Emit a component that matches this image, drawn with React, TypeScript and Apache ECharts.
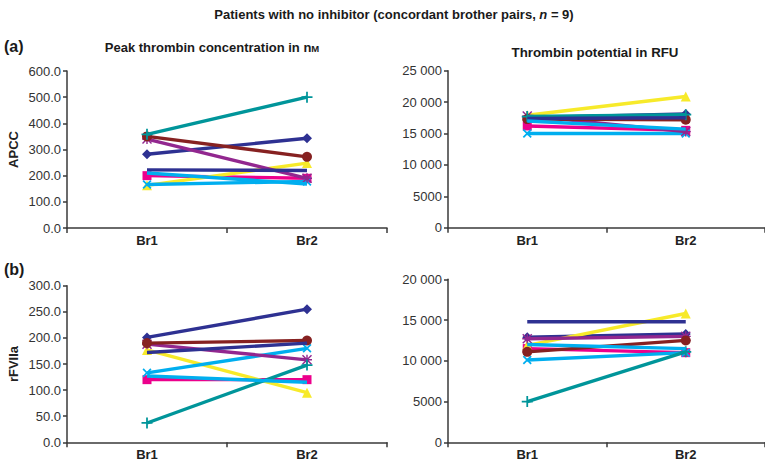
import React, { useEffect, useRef } from "react";
import * as echarts from "echarts";

const categories = ["Br1", "Br2"];

const seriesNames = ["P1", "P2", "P3", "P4", "P5", "P6", "P7", "P8", "P9"];
const seriesColors = ["#2E3192", "#EC008C", "#F7EA2A", "#00AEEF", "#92278F", "#862121", "#00959A", "#2E3192", "#00AEEF"];

// Panel (a) left: peak thrombin, APCC (nM)
const peakAPCC = [
  [282, 343],
  [200, 190],
  [163, 248],
  [166, 178],
  [340, 190],
  [350, 272],
  [358, 500],
  [222, 220],
  [210, 168],
];
// Panel (a) right: thrombin potential, APCC (RFU)
const potAPCC = [
  [17500, 18100],
  [16200, 15500],
  [17900, 20900],
  [15000, 15000],
  [17800, 15300],
  [17300, 17200],
  [17700, 18000],
  [17400, 17500],
  [17000, 15700],
];
// Panel (b) left: peak thrombin, rFVIIa (nM)
const peakRF = [
  [201, 255],
  [120, 120],
  [177, 95],
  [133, 180],
  [188, 158],
  [190, 195],
  [37, 148],
  [172, 190],
  [127, 115],
];
// Panel (b) right: thrombin potential, rFVIIa (RFU)
const potRF = [
  [12900, 13300],
  [11500, 11000],
  [11900, 15800],
  [10100, 11000],
  [12700, 13000],
  [11100, 12500],
  [5000, 11100],
  [14800, 14800],
  [12000, 11500],
];

const PLUS = "path://M4.2,0 L5.8,0 L5.8,4.2 L10,4.2 L10,5.8 L5.8,5.8 L5.8,10 L4.2,10 L4.2,5.8 L0,5.8 L0,4.2 L4.2,4.2 Z";
const STAR =
  "path://M4.3,0 L5.7,0 L5.7,4.3 L10,4.3 L10,5.7 L5.7,5.7 L5.7,10 L4.3,10 L4.3,5.7 L0,5.7 L0,4.3 L4.3,4.3 Z M1,0 L5,4 L9,0 L10,1 L6,5 L10,9 L9,10 L5,6 L1,10 L0,9 L4,5 L0,1 Z";
const markerSymbols = ["diamond", "rect", "triangle", PLUS, STAR, "circle", PLUS, "none", "none"];
const markerSizes = [10, 9, 10, 11, 10, 10, 11, 0, 0];
const markerRotate = [0, 0, 0, 45, 0, 0, 0, 0, 0];

const FONT = "'Liberation Sans', Arial, Helvetica, sans-serif";

function fmtThousands(v: number) {
  if (v >= 10000) return `${Math.floor(v / 1000)} 000`;
  return String(v);
}

export default function App() {
  const ref = useRef<HTMLDivElement>(null);
  useEffect(() => {
    if (!ref.current) return;
    const chart = echarts.init(ref.current, undefined, { renderer: "svg" });

    const grids = [
      { left: 67, top: 71, width: 320, height: 157 },
      { left: 448, top: 70.7, width: 324, height: 157 },
      { left: 67, top: 285.7, width: 320, height: 156.6 },
      { left: 448, top: 279.3, width: 324, height: 163 },
    ];
    const axisLine = { show: true, lineStyle: { color: "#3a3a3a", width: 1.5 } };

    const xAxis = grids.map((_, i) => ({
      type: "category",
      gridIndex: i,
      data: categories,
      boundaryGap: true,
      axisLine,
      axisTick: { show: true, length: 5, lineStyle: { color: "#3a3a3a", width: 1.5 } },
      axisLabel: { fontFamily: FONT, fontWeight: "bold", fontSize: 13, color: "#222", margin: 6 },
    }));

    const yCfg = [
      { max: 600, interval: 100, fmt: (v: number) => v.toFixed(1), name: "APCC" },
      { max: 25000, interval: 5000, fmt: fmtThousands, name: "" },
      { max: 300, interval: 50, fmt: (v: number) => v.toFixed(1), name: "rFVIIa" },
      { max: 20000, interval: 5000, fmt: fmtThousands, name: "" },
    ];
    const yAxis = yCfg.map((c, i) => ({
      type: "value",
      gridIndex: i,
      min: 0,
      max: c.max,
      interval: c.interval,
      name: c.name,
      nameLocation: "middle",
      nameRotate: 90,
      nameGap: 47,
      nameTextStyle: { fontFamily: FONT, fontWeight: "bold", fontSize: 13, color: "#222" },
      splitLine: { show: false },
      axisLine,
      axisTick: { show: true, length: 4, lineStyle: { color: "#3a3a3a", width: 1.5 } },
      axisLabel: { formatter: c.fmt, fontFamily: FONT, fontSize: 13, color: "#333", margin: 6 },
    }));

    const panels = [peakAPCC, potAPCC, peakRF, potRF];
    const series: any[] = [];
    panels.forEach((panel, gi) => {
      panel.forEach((vals, si) => {
        series.push({
          type: "line",
          name: seriesNames[si],
          xAxisIndex: gi,
          yAxisIndex: gi,
          data: vals,
          symbol: markerSymbols[si],
          symbolSize: markerSizes[si],
          symbolRotate: markerRotate[si],
          showSymbol: markerSymbols[si] !== "none",
          lineStyle: { color: seriesColors[si], width: 3.4 },
          itemStyle: { color: seriesColors[si] },
          emphasis: { disabled: true },
          z: 2 + si,
        });
      });
    });

    const option: any = {
      animation: false,
      grid: grids.map((g) => ({ ...g, containLabel: false })),
      xAxis,
      yAxis,
      series,
      graphic: [
        {
          type: "text",
          x: 394,
          y: 14,
          style: {
            text: "{b|Patients with no inhibitor (concordant brother pairs, }{i|n}{b| = 9)}",
            align: "center",
            verticalAlign: "middle",
            rich: {
              b: { fontFamily: FONT, fontWeight: "bold", fontSize: 13, fill: "#1a1a1a" },
              i: { fontFamily: FONT, fontWeight: "bold", fontStyle: "italic", fontSize: 13, fill: "#1a1a1a" },
            },
          },
        },
        {
          type: "text",
          x: 212,
          y: 45,
          style: {
            text: "{b|Peak thrombin concentration in n}{s|M}",
            align: "center",
            verticalAlign: "middle",
            rich: {
              b: { fontFamily: FONT, fontWeight: "bold", fontSize: 13, fill: "#1a1a1a", lineHeight: 16, verticalAlign: "bottom" },
              s: { fontFamily: FONT, fontWeight: "bold", fontSize: 9.5, fill: "#1a1a1a", lineHeight: 17.5, verticalAlign: "bottom" },
            },
          },
        },
        {
          type: "text",
          x: 595,
          y: 52,
          style: {
            text: "Thrombin potential in RFU",
            align: "center",
            verticalAlign: "middle",
            fontFamily: FONT,
            fontWeight: "bold",
            fontSize: 13.3,
            fill: "#1a1a1a",
          },
        },
        {
          type: "text",
          x: 4,
          y: 46,
          style: { text: "(a)", verticalAlign: "middle", fontFamily: FONT, fontWeight: "bold", fontSize: 16, fill: "#1a1a1a" },
        },
        {
          type: "text",
          x: 4,
          y: 269,
          style: { text: "(b)", verticalAlign: "middle", fontFamily: FONT, fontWeight: "bold", fontSize: 16, fill: "#1a1a1a" },
        },
      ],
    };
    chart.setOption(option);
    return () => chart.dispose();
  }, []);

  return (
    <div
      ref={ref}
      style={{ position: "absolute", left: 0, top: 0, width: 765, height: 467, background: "#fff", overflow: "hidden" }}
    />
  );
}
